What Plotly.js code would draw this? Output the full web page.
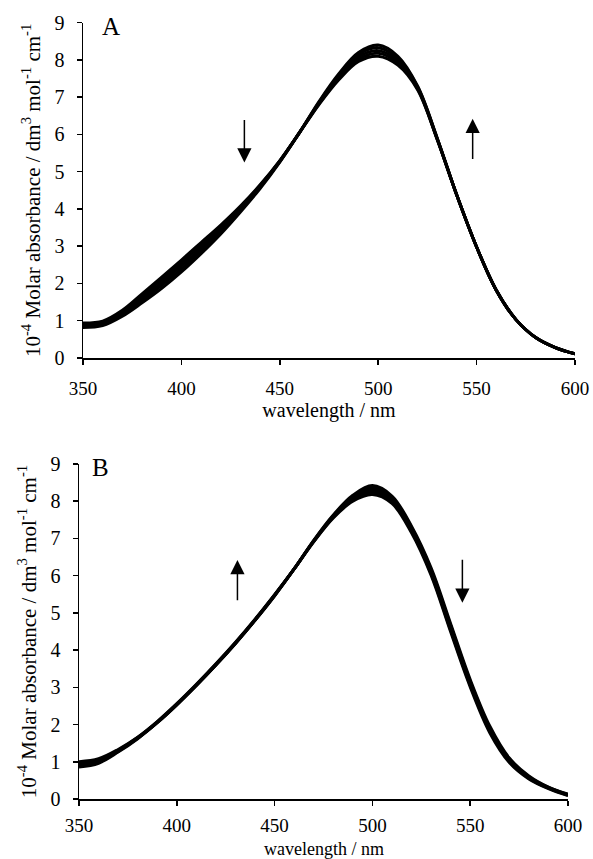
<!DOCTYPE html>
<html>
<head>
<meta charset="utf-8">
<script src="https://cdn.plot.ly/plotly-3.0.1.min.js"></script>
<style>html,body{margin:0;padding:0;background:#fff;}#chart{width:593px;height:859px;}</style>
</head>
<body>
<div id="chart"></div>
<script>
// wavelength grid (nm)
const wavelength = [350,360,370,380,390,400,410,420,430,440,450,460,470,480,490,500,510,520,530,540,550,560,570,580,590,600];

// Panel A spectra (10^-4 molar absorbance)
const specA1 = [0.94,0.99,1.28,1.72,2.17,2.63,3.10,3.57,4.08,4.65,5.30,6.05,6.81,7.47,7.96,8.10,7.86,7.20,5.86,4.36,2.98,1.82,1.03,0.55,0.28,0.11];
const specA2 = [0.91,0.96,1.24,1.66,2.10,2.55,3.03,3.51,4.04,4.63,5.29,6.05,6.83,7.51,8.02,8.18,7.92,7.23,5.87,4.36,2.98,1.82,1.03,0.55,0.28,0.11];
const specA3 = [0.88,0.93,1.20,1.60,2.02,2.47,2.95,3.45,4.00,4.60,5.28,6.05,6.85,7.55,8.08,8.25,7.98,7.25,5.88,4.36,2.98,1.82,1.03,0.55,0.28,0.11];
const specA4 = [0.85,0.90,1.16,1.54,1.95,2.39,2.88,3.39,3.96,4.58,5.27,6.05,6.87,7.59,8.14,8.33,8.04,7.28,5.89,4.36,2.98,1.82,1.03,0.55,0.28,0.11];
const specA5 = [0.82,0.87,1.12,1.48,1.87,2.31,2.80,3.33,3.92,4.55,5.26,6.05,6.89,7.63,8.20,8.40,8.10,7.30,5.90,4.36,2.98,1.82,1.03,0.55,0.28,0.11];

// Panel B spectra
const specB1 = [0.86,0.96,1.26,1.62,2.05,2.53,3.05,3.60,4.18,4.80,5.46,6.18,6.95,7.63,8.16,8.42,8.14,7.33,6.21,4.71,3.21,1.96,1.10,0.62,0.32,0.13];
const specB2 = [0.90,0.99,1.28,1.63,2.05,2.53,3.05,3.60,4.18,4.80,5.46,6.18,6.94,7.61,8.12,8.36,8.09,7.29,6.16,4.66,3.16,1.91,1.07,0.60,0.31,0.12];
const specB3 = [0.93,1.02,1.29,1.64,2.06,2.54,3.06,3.61,4.19,4.81,5.47,6.18,6.93,7.59,8.08,8.30,8.04,7.24,6.11,4.60,3.11,1.87,1.04,0.58,0.30,0.11];
const specB4 = [0.96,1.05,1.31,1.65,2.07,2.55,3.07,3.62,4.20,4.82,5.48,6.18,6.92,7.57,8.04,8.24,7.99,7.19,6.06,4.54,3.06,1.83,1.01,0.56,0.29,0.10];
const specB5 = [1.00,1.08,1.33,1.66,2.08,2.56,3.08,3.63,4.21,4.83,5.49,6.18,6.91,7.55,8.00,8.18,7.94,7.15,6.01,4.49,3.01,1.78,0.98,0.54,0.28,0.09];

// tick values
const xTicks = [350,400,450,500,550,600];
const yTicks = [0,1,2,3,4,5,6,7,8,9];

// texts
const panelLabels = ['A','B'];
const xTitle = 'wavelength / nm';
const yTitle = '10<sup>-4</sup> Molar absorbance / dm<sup>3</sup> mol<sup>-1</sup> cm<sup>-1</sup>';

// arrows (data coordinates)
const arrowsA = [{x:432, from:6.43, to:5.25},{x:548, from:5.30, to:6.42}];
const arrowsB = [{x:431, from:5.30, to:6.42},{x:546, from:6.47, to:5.27}];

const FONT = 'Liberation Serif, Times New Roman, serif';

function line(y, xa, ya){
  return {x: wavelength, y: y, type:'scatter', mode:'lines', xaxis: xa, yaxis: ya,
          line:{color:'#000', width:3, shape:'spline', smoothing:1}, hoverinfo:'skip', showlegend:false};
}
const traces = [specA1,specA2,specA3,specA4,specA5].map(s=>line(s,'x','y'))
  .concat([specB1,specB2,specB3,specB4,specB5].map(s=>line(s,'x2','y2')));

function xax(domain, withTitle, labelGap){
  const ax = {domain: domain, range:[350,600], tickvals: xTicks, ticktext: xTicks.map(String),
    showline:true, linecolor:'#000', linewidth:1.5, ticks:'outside', ticklen:5, tickwidth:1.5, tickcolor:'#000',
    ticklabelstandoff:labelGap,
    showgrid:false, zeroline:false, tickfont:{family:FONT, size:19, color:'#000'}};
  if (withTitle) ax.title = {text:xTitle, font:{family:FONT, size:20, color:'#000'}, standoff:3};
  return ax;
}
function yax(domain, anchor){
  return {domain: domain, range:[0,9], tickvals: yTicks, ticktext: yTicks.map(String), anchor: anchor,
    showline:true, linecolor:'#000', linewidth:1.5, ticks:'outside', ticklen:5, tickwidth:1.5, tickcolor:'#000',
    ticklabelstandoff:8,
    showgrid:false, zeroline:false, tickfont:{family:FONT, size:20, color:'#000'},
    title:{text: yTitle, font:{family:FONT, size:21, color:'#000'}, standoff:8}};
}

const W = 593, H = 859;
const annotations = [];
annotations.push({x:364, y:8.9, xref:'x', yref:'y', text:panelLabels[0], showarrow:false,
  font:{family:FONT, size:25, color:'#000'}, xanchor:'center', yanchor:'middle'});
annotations.push({x:361, y:8.9, xref:'x2', yref:'y2', text:panelLabels[1], showarrow:false,
  font:{family:FONT, size:25, color:'#000'}, xanchor:'center', yanchor:'middle'});
// lower panel x title, at the page's bottom edge
annotations.push({x:475, y:(H-849)/H, xref:'x2', yref:'paper', text:xTitle, showarrow:false,
  font:{family:FONT, size:18, color:'#000'}, xanchor:'center', yanchor:'middle'});
arrowsA.forEach(a=>annotations.push({x:a.x, y:a.to, ax:a.x, ay:a.from, xref:'x', yref:'y', axref:'x', ayref:'y',
  text:'', showarrow:true, arrowhead:2, arrowsize:1.9, arrowwidth:1.5, arrowcolor:'#000', standoff:0, startstandoff:0}));
arrowsB.forEach(a=>annotations.push({x:a.x, y:a.to, ax:a.x, ay:a.from, xref:'x2', yref:'y2', axref:'x2', ayref:'y2',
  text:'', showarrow:true, arrowhead:2, arrowsize:1.9, arrowwidth:1.5, arrowcolor:'#000', standoff:0, startstandoff:0}));

const layout = {
  width: W, height: H, margin:{l:0,r:0,t:0,b:0},
  paper_bgcolor:'#fff', plot_bgcolor:'#fff', showlegend:false,
  xaxis: Object.assign(xax([83/W, 575/W], true, 8), {anchor:'y'}),
  yaxis: yax([(H-358)/H, (H-22.7)/H], 'x'),
  xaxis2: Object.assign(xax([79/W, 568/W], false, 4), {anchor:'y2'}),
  yaxis2: yax([(H-799)/H, (H-464)/H], 'x2'),
  annotations: annotations
};
Plotly.newPlot('chart', traces, layout, {staticPlot:true, displayModeBar:false});
</script>
</body>
</html>
